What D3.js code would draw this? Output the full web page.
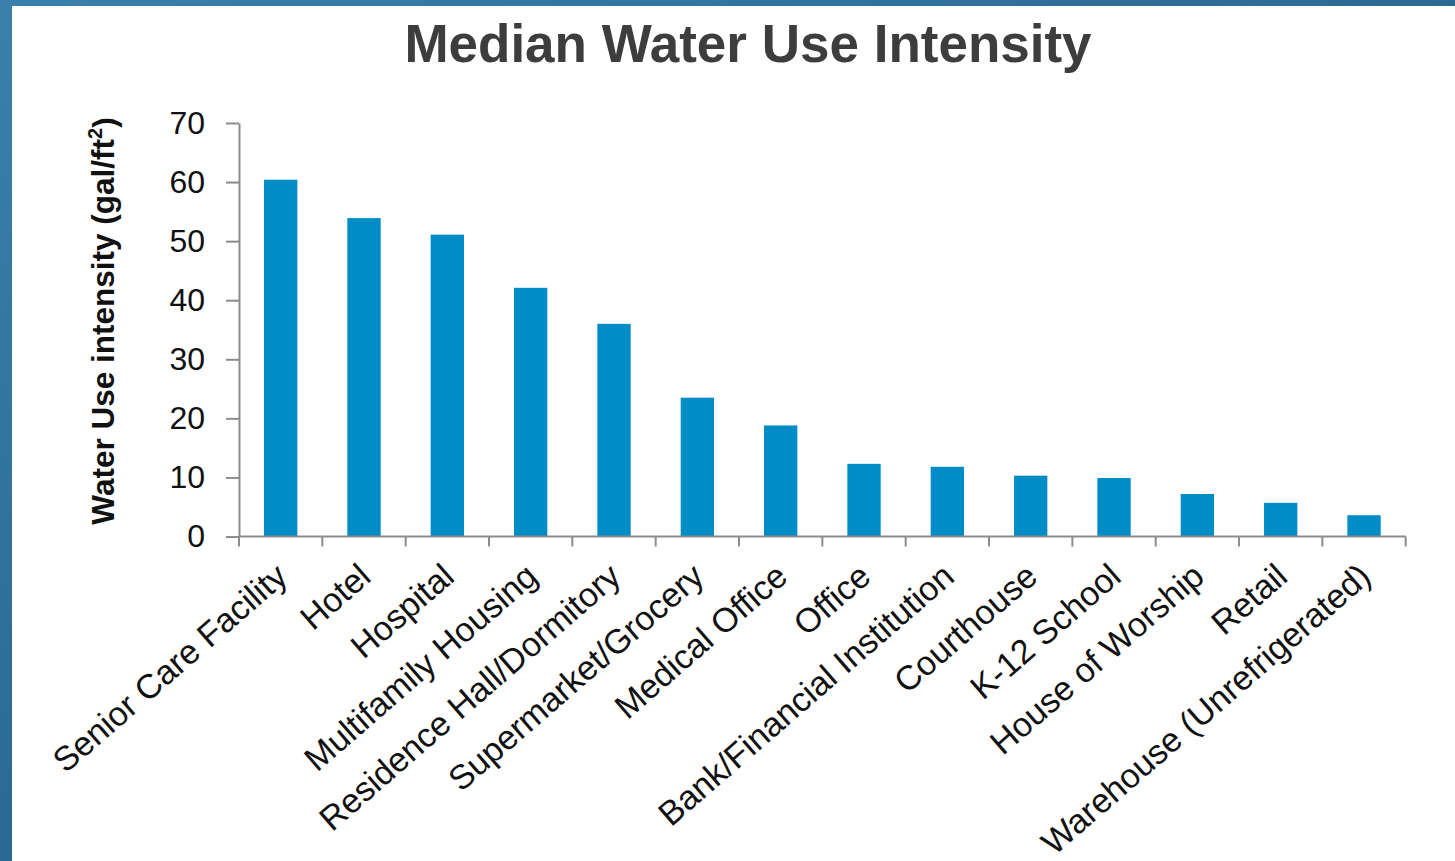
<!DOCTYPE html>
<html>
<head>
<meta charset="utf-8">
<script src="https://cdn.jsdelivr.net/npm/d3@7"></script>
<style>
  html, body { margin: 0; padding: 0; background: #fff; }
  svg { display: block; }
  text { font-family: "Liberation Sans", Arial, sans-serif; }
</style>
</head>
<body>
<svg id="chart" width="1455" height="861"></svg>
<script>
const categories = [
  "Senior Care Facility", "Hotel", "Hospital", "Multifamily Housing",
  "Residence Hall/Dormitory", "Supermarket/Grocery", "Medical Office", "Office",
  "Bank/Financial Institution", "Courthouse", "K-12 School", "House of Worship",
  "Retail", "Warehouse (Unrefrigerated)"
];
const values = [60.4, 53.9, 51.1, 42.1, 36.0, 23.5, 18.8, 12.3, 11.8, 10.3, 9.9, 7.2, 5.7, 3.6];
const yTicks = [0, 10, 20, 30, 40, 50, 60, 70];
const title = "Median Water Use Intensity";
const yTitle = "Water Use intensity (gal/ft";

const W = 1455, H = 861;
const svg = d3.select("#chart");

// frame background
const defs = svg.append("defs");
const grad = defs.append("linearGradient").attr("id", "frame")
  .attr("x1", "0").attr("y1", "0").attr("x2", "1").attr("y2", "1");
grad.append("stop").attr("offset", "0").attr("stop-color", "#3a80ac");
grad.append("stop").attr("offset", "0.5").attr("stop-color", "#2a6a92");
grad.append("stop").attr("offset", "1").attr("stop-color", "#164c6e");
svg.append("rect").attr("width", W).attr("height", H).attr("fill", "url(#frame)");
svg.append("rect").attr("x", 12).attr("y", 6).attr("width", W - 12).attr("height", H - 6).attr("fill", "#fff");

const x = d3.scaleBand().domain(categories).range([239, 1405.7]).padding(0);
const y = d3.scaleLinear().domain([0, 70]).range([536.5, 123]);
const bw = x.bandwidth();
const barW = bw * 0.4;

// bars
svg.append("g").selectAll("rect").data(categories).join("rect")
  .attr("x", (d) => x(d) + bw / 2 - barW / 2)
  .attr("y", (d, i) => y(values[i]))
  .attr("width", barW)
  .attr("height", (d, i) => y(0) - y(values[i]))
  .attr("fill", "#008cc6");

// y axis
const yAxis = d3.axisLeft(y).tickValues(yTicks).tickSize(13).tickSizeOuter(0).tickPadding(21)
  .tickFormat(d3.format("d"));
const gy = svg.append("g").attr("transform", `translate(${x.range()[0]},0)`).call(yAxis);
gy.select(".domain").attr("stroke", "#8c8c8c").attr("stroke-width", 2);
gy.selectAll(".tick line").attr("stroke", "#8c8c8c").attr("stroke-width", 2);
gy.selectAll(".tick text").attr("font-size", 32).attr("fill", "#111")
  .attr("font-family", "'Liberation Sans', Arial, sans-serif");

// x axis line + boundary ticks
const gx = svg.append("g");
gx.append("line").attr("x1", x.range()[0]).attr("x2", x.range()[1])
  .attr("y1", y(0)).attr("y2", y(0)).attr("stroke", "#8c8c8c").attr("stroke-width", 2);
const bounds = categories.map((c) => x(c)).concat([x.range()[1]]);
gx.selectAll("line.tk").data(bounds).join("line").attr("class", "tk")
  .attr("x1", (d) => d).attr("x2", (d) => d)
  .attr("y1", y(0)).attr("y2", y(0) + 10)
  .attr("stroke", "#8c8c8c").attr("stroke-width", 2);

// x labels
gx.selectAll("text.lab").data(categories).join("text").attr("class", "lab")
  .attr("transform", (d) => `translate(${x(d) + bw / 2 + 1},${y(0) + 34}) rotate(-41)`)
  .attr("text-anchor", "end")
  .attr("dy", "0.35em")
  .attr("font-size", 34)
  .attr("fill", "#111")
  .text((d) => d);

// title
svg.append("text").attr("x", 748).attr("y", 62).attr("text-anchor", "middle")
  .attr("font-size", 53).attr("font-weight", "bold").attr("fill", "#3d3d3d")
  .text(title);

// y title
const yt = svg.append("text").attr("transform", `translate(114,321) rotate(-90)`)
  .attr("text-anchor", "middle").attr("font-size", 31.5).attr("font-weight", "bold").attr("fill", "#111");
yt.append("tspan").text(yTitle);
yt.append("tspan").attr("font-size", 20).attr("dy", "-0.6em").text("2");
yt.append("tspan").attr("dy", "0.4em").text(")");
</script>
</body>
</html>
